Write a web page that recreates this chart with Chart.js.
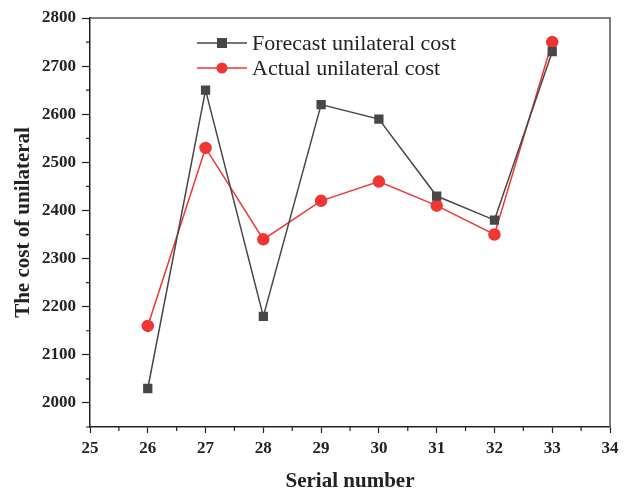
<!DOCTYPE html>
<html><head><meta charset="utf-8">
<script src="https://cdn.jsdelivr.net/npm/chart.js@4"></script>
<style>html,body{margin:0;padding:0;background:#fff}#wrap{width:629px;height:492px}</style>
</head><body><div id="wrap"><canvas id="c" width="629" height="492"></canvas></div>
<script>
const serialNumbers = [26, 27, 28, 29, 30, 31, 32, 33];
const forecastCost = [2030, 2650, 2180, 2620, 2590, 2430, 2380, 2730];
const actualCost = [2160, 2530, 2340, 2420, 2460, 2410, 2350, 2750];
const xTicks = [25, 26, 27, 28, 29, 30, 31, 32, 33, 34];
const yTicks = [2000, 2100, 2200, 2300, 2400, 2500, 2600, 2700, 2800];
const xMinor = [25.5, 26.5, 27.5, 28.5, 29.5, 30.5, 31.5, 32.5, 33.5];
const yMinor = [1950, 2050, 2150, 2250, 2350, 2450, 2550, 2650, 2750];
const seriesNames = ['Forecast unilateral cost', 'Actual unilateral cost'];
const GREY = '#474747', RED = '#f03535', AX = '#222';
const SERIF = '"Liberation Serif", "Times New Roman", serif';

const framePlugin = {
  id: 'frame',
  afterDraw(chart) {
    const {ctx, chartArea: a, scales} = chart;
    ctx.save();
    ctx.strokeStyle = '#555'; ctx.lineWidth = 1.5;
    ctx.beginPath();
    ctx.moveTo(a.left, a.top); ctx.lineTo(a.right, a.top); ctx.lineTo(a.right, a.bottom);
    ctx.stroke();
    ctx.strokeStyle = AX; ctx.lineWidth = 1.2;
    ctx.beginPath();
    xMinor.forEach(v => { const px = scales.x.getPixelForValue(v); ctx.moveTo(px, a.bottom); ctx.lineTo(px, a.bottom + 4); });
    yMinor.forEach(v => { const py = scales.y.getPixelForValue(v); ctx.moveTo(a.left, py); ctx.lineTo(a.left - 4, py); });
    ctx.stroke();
    // legend
    const rows = [{c: GREY, s: 'rect'}, {c: RED, s: 'circle'}];
    ctx.font = '22px ' + SERIF; ctx.textBaseline = 'middle'; ctx.textAlign = 'left';
    rows.forEach((r, i) => {
      const y = 43 + i * 25, x0 = 197, x1 = 247, mx = 222;
      ctx.strokeStyle = r.c; ctx.fillStyle = r.c; ctx.lineWidth = 1.5;
      ctx.beginPath(); ctx.moveTo(x0, y); ctx.lineTo(x1, y); ctx.stroke();
      if (r.s === 'rect') ctx.fillRect(mx - 5, y - 5, 10, 10);
      else { ctx.beginPath(); ctx.arc(mx, y, 5.5, 0, Math.PI * 2); ctx.fill(); }
      ctx.fillStyle = '#222';
      ctx.fillText(seriesNames[i], 252, y + 1);
    });
    ctx.restore();
  }
};

new Chart(document.getElementById('c'), {
  type: 'line',
  data: {
    datasets: [
      { label: seriesNames[0], data: serialNumbers.map((x, i) => ({x, y: forecastCost[i]})),
        borderColor: GREY, backgroundColor: GREY, borderWidth: 1.5, pointStyle: 'rect', pointRadius: 5.5, pointHoverRadius: 5.5 },
      { label: seriesNames[1], data: serialNumbers.map((x, i) => ({x, y: actualCost[i]})),
        borderColor: RED, backgroundColor: RED, borderWidth: 1.5, pointStyle: 'circle', pointRadius: 5.5, pointHoverRadius: 5.5 }
    ]
  },
  options: {
    responsive: false, animation: false, devicePixelRatio: 1,
    layout: { padding: { left: 0, right: 19, top: 18, bottom: 0 } },
    plugins: { legend: { display: false }, tooltip: { enabled: false } },
    scales: {
      x: {
        type: 'linear', min: 25, max: 34,
        afterBuildTicks: s => { s.ticks = xTicks.map(v => ({value: v})); },
        afterFit: s => { s.height = 65; },
        grid: { drawOnChartArea: false, drawTicks: true, tickLength: 6, tickColor: AX, tickWidth: 1.2 },
        border: { display: true, color: AX, width: 1.5 },
        ticks: { color: '#222', padding: 5, font: { family: SERIF, size: 17, weight: 'bold' }, maxRotation: 0, callback: v => String(v) },
        title: { display: true, text: 'Serial number', color: '#222', padding: { top: 0, bottom: 0 }, font: { family: SERIF, size: 21, weight: 'bold', lineHeight: 1 } }
      },
      y: {
        min: 1950, max: 2800,
        afterBuildTicks: s => { s.ticks = yTicks.map(v => ({value: v})); },
        afterFit: s => { s.width = 90; },
        grid: { drawOnChartArea: false, drawTicks: true, tickLength: 8, tickColor: AX, tickWidth: 1.2 },
        border: { display: true, color: AX, width: 1.5 },
        ticks: { color: '#222', padding: 6, font: { family: SERIF, size: 17, weight: 'bold' }, callback: v => String(v) },
        title: { display: true, text: 'The cost of unilateral', color: '#222', padding: { top: 13, bottom: 0 }, font: { family: SERIF, size: 21, weight: 'bold', lineHeight: 1 } }
      }
    }
  },
  plugins: [framePlugin]
});
</script></body></html>
